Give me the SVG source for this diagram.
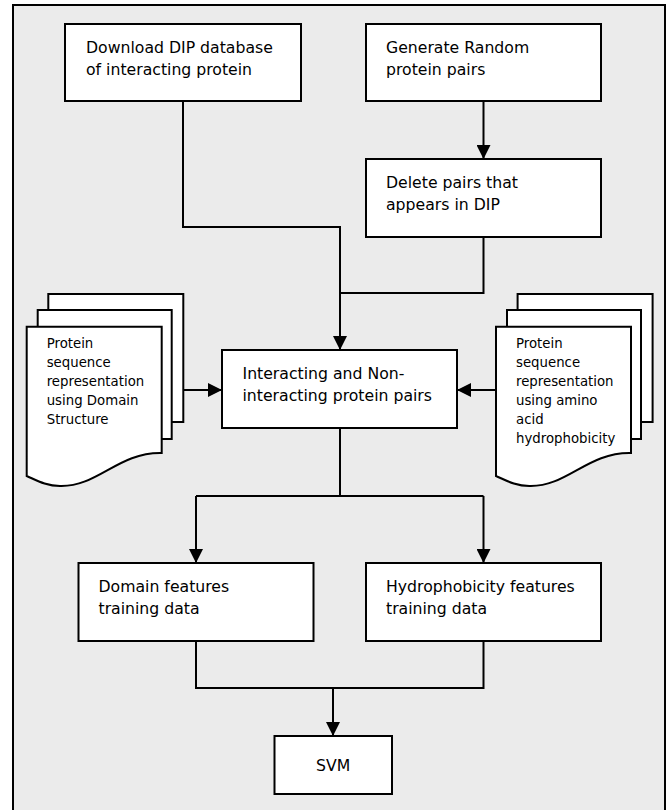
<svg xmlns="http://www.w3.org/2000/svg" width="668" height="810" viewBox="0 0 668 810">
<defs>
<style>
.frame{fill:#ebebeb;stroke:#000;stroke-width:2}
.box{fill:#fff;stroke:#000;stroke-width:2}
.doc{fill:#fff;stroke:#000;stroke-width:2;stroke-linejoin:miter}
.t{font-family:"DejaVu Sans",Verdana,sans-serif;font-size:15.7px;fill:#000}
.s{font-family:"DejaVu Sans",Verdana,sans-serif;font-size:13.3px;fill:#000}
.c{fill:none;stroke:#000;stroke-width:2}
</style>
<marker id="ah" viewBox="0 0 14 14" markerWidth="14" markerHeight="14" refX="14" refY="7" orient="auto" markerUnits="userSpaceOnUse">
<path d="M0,0 L14,7 L0,14 z" fill="#000"/>
</marker>
</defs>
<rect class="frame" x="13" y="5" width="652" height="812"/>
<g id="connectors">
<path class="c" d="M183,101 V227 H340 V350" marker-end="url(#ah)"/>
<path class="c" d="M483.5,237 V293 H340"/>
<path class="c" d="M483.5,101 V159" marker-end="url(#ah)"/>
<path class="c" d="M183,390 H222" marker-end="url(#ah)"/>
<path class="c" d="M496,390 H457" marker-end="url(#ah)"/>
<path class="c" d="M340,428 V496"/>
<path class="c" d="M196,496 H483.5"/>
<path class="c" d="M196,496 V563" marker-end="url(#ah)"/>
<path class="c" d="M483.5,496 V563" marker-end="url(#ah)"/>
<path class="c" d="M196,641 V688 H483.5 V641"/>
<path class="c" d="M333,688 V736" marker-end="url(#ah)"/>
</g>
<g id="download">
<rect class="box" x="65" y="24" width="236" height="77"/>
<text class="t" x="86" y="52.5">Download DIP database</text>
<text class="t" x="86" y="75">of interacting protein</text>
</g>
<g id="generate">
<rect class="box" x="366" y="24" width="235" height="77"/>
<text class="t" x="386" y="52.5">Generate Random</text>
<text class="t" x="386" y="75">protein pairs</text>
</g>
<g id="delete">
<rect class="box" x="366" y="159" width="235" height="78"/>
<text class="t" x="386" y="187.5">Delete pairs that</text>
<text class="t" x="386" y="210">appears in DIP</text>
</g>
<g id="interacting">
<rect class="box" x="222" y="350" width="235" height="78"/>
<text class="t" x="242.5" y="378.5">Interacting and Non-</text>
<text class="t" x="242.5" y="401">interacting protein pairs</text>
</g>
<g id="doc-domain">
<rect class="doc" x="48.3" y="294" width="135" height="128"/>
<rect class="doc" x="37.7" y="310" width="134" height="129"/>
<path class="doc" d="M26.7,326.7 H161.7 V453 C118,452 98,487 60,486 C46,486 36,480 26.7,476 Z"/>
<text class="s" x="46.7" y="348">Protein</text>
<text class="s" x="46.7" y="367">sequence</text>
<text class="s" x="46.7" y="386">representation</text>
<text class="s" x="46.7" y="405">using Domain</text>
<text class="s" x="46.7" y="424">Structure</text>
</g>
<g id="doc-hydro">
<rect class="doc" x="517.6" y="294" width="135" height="128"/>
<rect class="doc" x="507" y="310" width="134" height="129"/>
<path class="doc" d="M496,326.7 H631 V453 C587.3,452 567.3,487 529.3,486 C515.3,486 505.3,480 496,476 Z"/>
<text class="s" x="516" y="348">Protein</text>
<text class="s" x="516" y="367">sequence</text>
<text class="s" x="516" y="386">representation</text>
<text class="s" x="516" y="405">using amino</text>
<text class="s" x="516" y="424">acid</text>
<text class="s" x="516" y="443">hydrophobicity</text>
</g>
<g id="domain">
<rect class="box" x="78.5" y="563" width="235" height="78"/>
<text class="t" x="98.5" y="591.5">Domain features</text>
<text class="t" x="98.5" y="614">training data</text>
</g>
<g id="hydro">
<rect class="box" x="366" y="563" width="235" height="78"/>
<text class="t" x="386" y="591.5">Hydrophobicity features</text>
<text class="t" x="386" y="614">training data</text>
</g>
<g id="svm">
<rect class="box" x="274.5" y="736" width="117.5" height="58"/>
<text class="t" x="333.2" y="770.5" text-anchor="middle">SVM</text>
</g>
</svg>
